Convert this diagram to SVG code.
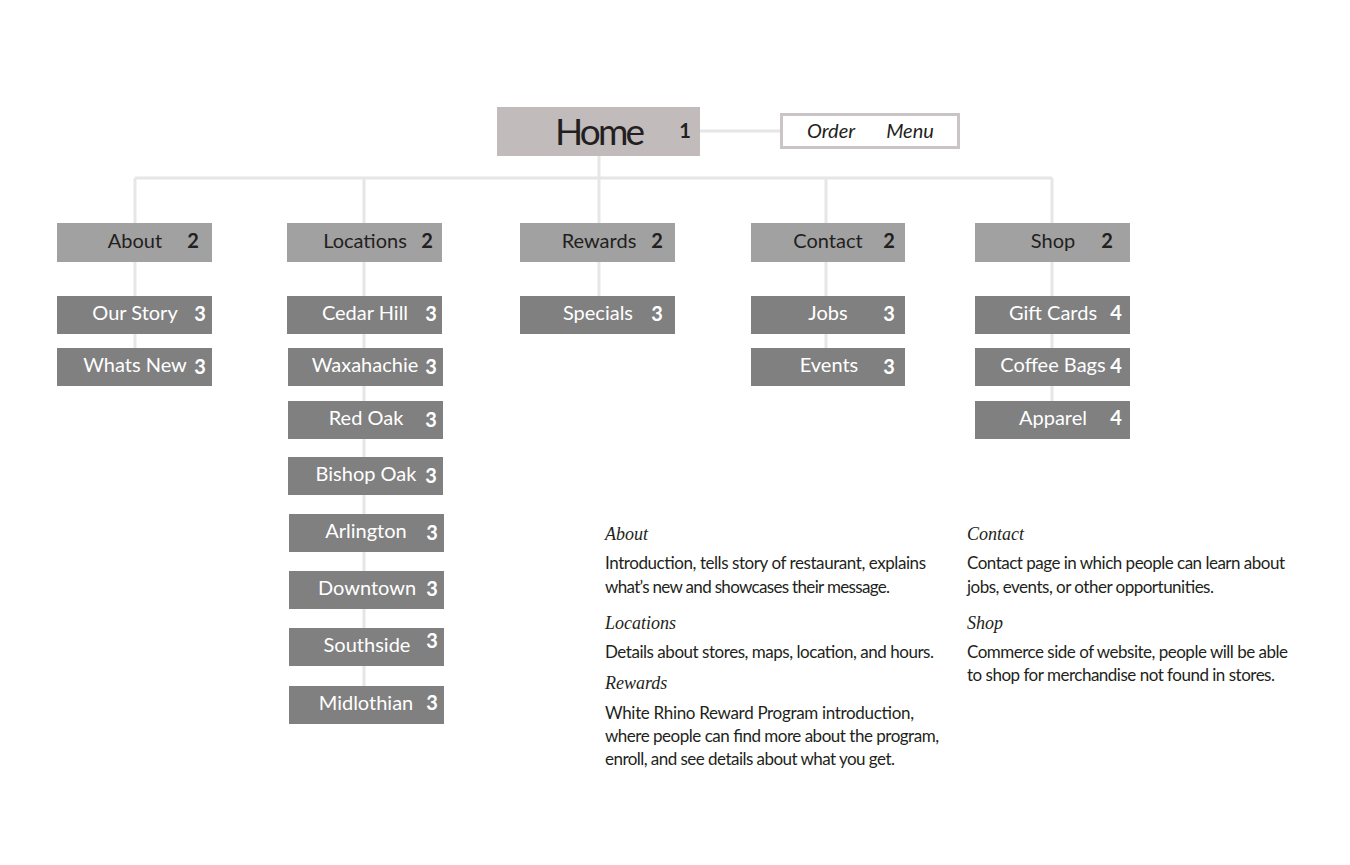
<svg xmlns="http://www.w3.org/2000/svg" width="1350" height="865" viewBox="0 0 1350 865">
<style>
.bg{fill:#ffffff}
.conn{stroke:#e6e6e6;stroke-width:3;fill:none}
.home{fill:#c1bbbc}
.l2{fill:#a1a1a1}
.l3{fill:#808080}
.t2{font-family:Lato,"Liberation Sans",sans-serif;font-size:20px;fill:#231f20;text-anchor:middle}
.t3{font-family:Lato,"Liberation Sans",sans-serif;font-size:20px;fill:#ffffff;text-anchor:middle}
.n2{font-family:Lato,"Liberation Sans",sans-serif;font-size:20px;font-weight:bold;fill:#231f20;text-anchor:middle}
.n3{font-family:Lato,"Liberation Sans",sans-serif;font-size:20px;font-weight:bold;fill:#ffffff;text-anchor:middle}
.hd{font-family:"Liberation Serif",serif;font-style:italic;font-size:18px;fill:#231f20}
.bd{font-family:Lato,"Liberation Sans",sans-serif;font-size:17px;fill:#231f20}
.om{font-family:Lato,"Liberation Sans",sans-serif;font-style:italic;font-size:20px;fill:#231f20;text-anchor:middle}
</style>
<rect class="bg" x="0" y="0" width="1350" height="865"/>
<g id="connectors">
<line class="conn" x1="700" y1="131" x2="780" y2="131"/>
<line class="conn" x1="599" y1="156" x2="599" y2="178"/>
<line class="conn" x1="135" y1="178" x2="1052" y2="178"/>
<line class="conn" x1="135" y1="178" x2="135" y2="350"/>
<line class="conn" x1="364" y1="178" x2="364" y2="687"/>
<line class="conn" x1="599" y1="178" x2="599" y2="298"/>
<line class="conn" x1="826" y1="178" x2="826" y2="350"/>
<line class="conn" x1="1052" y1="178" x2="1052" y2="403"/>
</g>
<g id="home">
<rect class="home" x="497" y="107" width="203" height="49"/>
<text x="600" y="145" font-family="Lato,'Liberation Sans',sans-serif" font-size="37" fill="#231f20" text-anchor="middle" textLength="90">Home</text>
<text x="685" y="138" class="n2">1</text>
</g>
<g id="order-menu">
<rect x="781.500" y="114.500" width="177" height="33" fill="#ffffff" stroke="#c9c4c5" stroke-width="3"/>
<text x="831" y="138" class="om">Order</text>
<text x="910" y="138" class="om">Menu</text>
</g>
<g id="about">
<rect class="l2" x="57" y="223" width="155" height="39"/>
<text x="135" y="248" class="t2">About</text><text x="193" y="248" class="n2">2</text>
</g>
<g id="locations">
<rect class="l2" x="287" y="223" width="155" height="39"/>
<text x="365" y="248" class="t2">Locations</text><text x="427" y="248" class="n2">2</text>
</g>
<g id="rewards">
<rect class="l2" x="520" y="223" width="155" height="39"/>
<text x="599" y="248" class="t2">Rewards</text><text x="657" y="248" class="n2">2</text>
</g>
<g id="contact">
<rect class="l2" x="751" y="223" width="154" height="39"/>
<text x="828" y="248" class="t2">Contact</text><text x="889" y="248" class="n2">2</text>
</g>
<g id="shop">
<rect class="l2" x="975" y="223" width="155" height="39"/>
<text x="1053" y="248" class="t2">Shop</text><text x="1107" y="248" class="n2">2</text>
</g>
<g id="our-story"><rect class="l3" x="57" y="296" width="155" height="38"/><text x="135" y="320" class="t3">Our Story</text><text x="200" y="321" class="n3">3</text></g>
<g id="whats-new"><rect class="l3" x="57" y="348" width="155" height="38"/><text x="135" y="372" class="t3">Whats New</text><text x="200" y="374" class="n3">3</text></g>
<g id="cedar-hill"><rect class="l3" x="287" y="296" width="155" height="38"/><text x="365" y="320" class="t3">Cedar Hill</text><text x="431" y="321" class="n3">3</text></g>
<g id="waxahachie"><rect class="l3" x="288" y="348" width="155" height="38"/><text x="365" y="372" class="t3">Waxahachie</text><text x="431" y="374" class="n3">3</text></g>
<g id="red-oak"><rect class="l3" x="288" y="401" width="155" height="38"/><text x="366" y="425" class="t3">Red Oak</text><text x="431" y="427" class="n3">3</text></g>
<g id="bishop-oak"><rect class="l3" x="288" y="457" width="155" height="38"/><text x="366" y="481" class="t3">Bishop Oak</text><text x="431" y="483" class="n3">3</text></g>
<g id="arlington"><rect class="l3" x="289" y="514" width="155" height="38"/><text x="366" y="538" class="t3">Arlington</text><text x="432" y="540" class="n3">3</text></g>
<g id="downtown"><rect class="l3" x="289" y="571" width="155" height="38"/><text x="367" y="595" class="t3">Downtown</text><text x="432" y="596" class="n3">3</text></g>
<g id="southside"><rect class="l3" x="289" y="628" width="155" height="38"/><text x="367" y="652" class="t3">Southside</text><text x="432" y="648" class="n3">3</text></g>
<g id="midlothian"><rect class="l3" x="289" y="686" width="155" height="38"/><text x="366" y="710" class="t3">Midlothian</text><text x="432" y="710" class="n3">3</text></g>
<g id="specials"><rect class="l3" x="520" y="296" width="155" height="38"/><text x="598" y="320" class="t3">Specials</text><text x="657" y="321" class="n3">3</text></g>
<g id="jobs"><rect class="l3" x="751" y="296" width="154" height="38"/><text x="828" y="320" class="t3">Jobs</text><text x="889" y="321" class="n3">3</text></g>
<g id="events"><rect class="l3" x="751" y="348" width="154" height="38"/><text x="829" y="372" class="t3">Events</text><text x="889" y="374" class="n3">3</text></g>
<g id="gift-cards"><rect class="l3" x="975" y="296" width="155" height="38"/><text x="1053" y="320" class="t3">Gift Cards</text><text x="1116" y="320" class="n3">4</text></g>
<g id="coffee-bags"><rect class="l3" x="975" y="348" width="155" height="38"/><text x="1053" y="372" class="t3">Coffee Bags</text><text x="1116" y="373" class="n3">4</text></g>
<g id="apparel"><rect class="l3" x="975" y="401" width="155" height="38"/><text x="1053" y="425" class="t3">Apparel</text><text x="1116" y="425" class="n3">4</text></g>
<g id="descriptions">
<text x="605" y="540" class="hd">About</text>
<text x="605" y="569" class="bd" textLength="321">Introduction, tells story of restaurant, explains</text>
<text x="605" y="593" class="bd" textLength="285">what’s new and showcases their message.</text>
<text x="605" y="629" class="hd">Locations</text>
<text x="605" y="658" class="bd" textLength="329">Details about stores, maps, location, and hours.</text>
<text x="605" y="689" class="hd">Rewards</text>
<text x="605" y="719" class="bd" textLength="309">White Rhino Reward Program introduction,</text>
<text x="605" y="742" class="bd" textLength="334">where people can find more about the program,</text>
<text x="605" y="765" class="bd" textLength="290">enroll, and see details about what you get.</text>
<text x="967" y="540" class="hd">Contact</text>
<text x="967" y="569" class="bd" textLength="318">Contact page in which people can learn about</text>
<text x="967" y="593" class="bd" textLength="247">jobs, events, or other opportunities.</text>
<text x="967" y="629" class="hd">Shop</text>
<text x="967" y="658" class="bd" textLength="321">Commerce side of website, people will be able</text>
<text x="967" y="681" class="bd" textLength="308">to shop for merchandise not found in stores.</text>
</g>
</svg>
